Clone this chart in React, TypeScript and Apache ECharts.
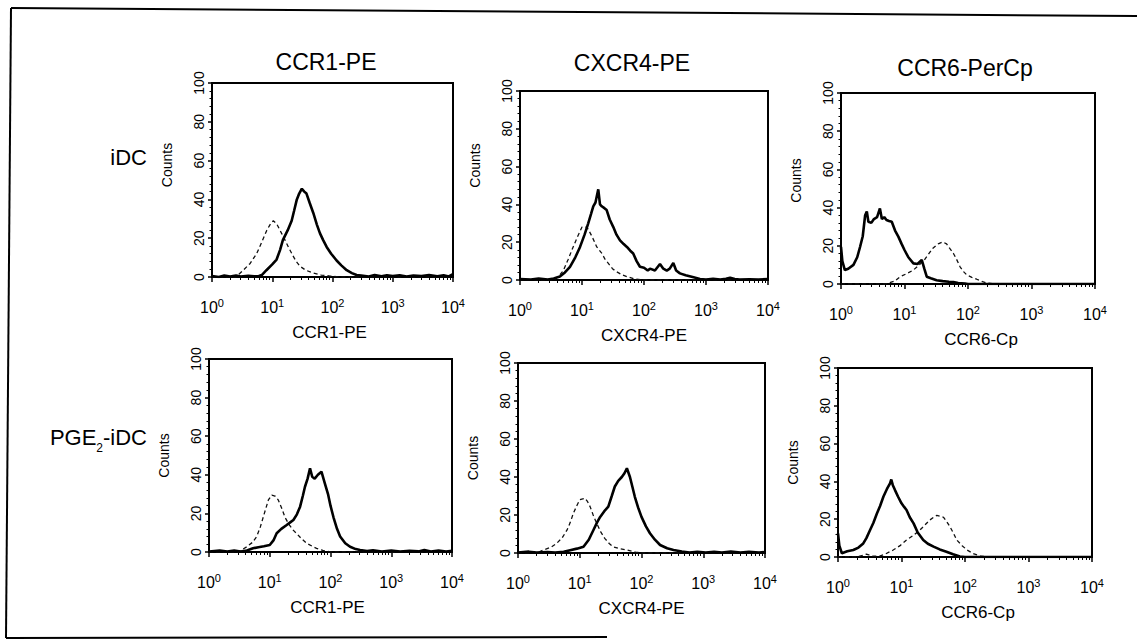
import React, { useEffect, useRef } from 'react';
import * as echarts from 'echarts';

const FONT = '"Liberation Sans", Arial, Helvetica, sans-serif';

const columnTitles = ['CCR1-PE', 'CXCR4-PE', 'CCR6-PerCp'];
const xAxisNames = ['CCR1-PE', 'CXCR4-PE', 'CCR6-Cp'];
const rowLabels = ['iDC', 'PGE{sub|2}-iDC'];
const yAxisName = 'Counts';
const yMax = 100;
const yStep = 20;
const xMin = 1;
const xMax = 10000;

// [fluorescence intensity, counts]
const iDC_CCR1_solid = [[1,0.5],[1.3,0],[1.6,0.8],[2,0.3],[2.5,0.8],[3,0.2],[4,0.6],[5,0.3],[6,0.5],[6.7,1],[8,3.5],[10,6.5],[11.8,9],[13.5,14],[15,19],[18,24],[21,29],[23,34],[25.6,40],[28,43],[31,45.5],[34,44],[37,43],[42,38],[48,33],[55,27],[62,22.5],[70,19],[80,15.5],[95,12],[117,8.5],[140,6],[172,3.5],[210,2],[251,1],[300,0.8],[400,0.3],[500,1],[650,0.4],[800,0.9],[1000,0.5],[1300,0.9],[1700,0.3],[2200,0.8],[3000,0.5],[4000,1],[5500,0.4],[7000,0.9],[8500,0.3],[10000,1.5]];
const iDC_CCR1_dashed = [[1,0],[2.5,0],[3.3,3.5],[4.3,7],[5.5,12],[6.7,18],[8.1,24],[9.2,27],[10.4,29],[11.8,27.5],[13,25],[14.3,22.5],[16.3,19],[18.5,15.5],[22,11],[25,8],[29,5.5],[36,3.5],[48,2],[65,1],[91,0.5],[130,0],[10000,0]];

const iDC_CXCR4_solid = [[1,0.5],[1.5,0.2],[2,0.8],[2.8,0.3],[3.5,0.8],[4.4,1.8],[5.3,4],[6.4,7],[7.8,12],[9.3,17.5],[11,24],[12.6,30],[14,35],[15.2,39],[16.5,41],[18.3,48],[19.5,40],[20.8,39],[23,38],[25,37],[28,32],[32,28],[36,24],[41,21],[47,19],[53,17.5],[60,15.5],[67,14],[76,10],[86,7],[100,6.5],[115,5],[125,6],[150,5],[181,8.5],[205,6],[233,5],[260,6],[297,9],[330,5],[380,3.5],[470,2.5],[630,1.4],[800,0.5],[1000,0.3],[1300,0.6],[1700,0.2],[2100,0.6],[2450,1.2],[2900,0.5],[3500,0.2],[5000,0.4],[7000,0.2],[10000,0.5]];
const iDC_CXCR4_dashed = [[1,0],[3.5,0],[4.2,2],[5,5],[6,11],[7.2,17.5],[8.5,23],[10,28],[12,28],[13,26],[14.5,23],[16,20],[17.3,17.5],[21,14],[23.5,11],[26.6,8.8],[31,6],[36,4.4],[44,2.8],[53,1.8],[70,0.6],[100,0],[10000,0]];

const iDC_CCR6_solid = [[1,19.5],[1.05,12],[1.15,7.3],[1.3,8],[1.57,10],[1.8,14],[2.0,19.5],[2.2,25],[2.4,36],[2.55,38],[2.7,32.6],[3.0,32],[3.3,34],[3.7,35],[4.1,39.6],[4.4,34],[4.8,35],[5.2,33.5],[5.7,33],[6.3,32.6],[7.1,28],[8,24.8],[9,21],[10,17.8],[11.5,14],[13.8,10.8],[16,10.5],[18.7,12.6],[20.5,8],[22.4,3.8],[26,3],[32,2],[40,1.5],[50,1.2],[59,1],[70,0.5],[90,0.2],[100,0],[10000,0]];
const iDC_CCR6_dashed = [[1,0],[5,0],[7,1.5],[8.5,3.8],[11,5.5],[13.8,7.3],[17,10],[20,12],[22.4,14.3],[25,16.5],[28,18.7],[31,20],[34,21],[40,22],[46,21],[52,18.5],[59,16],[67,12.5],[75,9],[85,6.5],[96,4.7],[115,3.5],[137,2.5],[170,1.2],[200,0.5],[260,0],[10000,0]];

const pge_CCR1_solid = [[1,0.3],[1.5,0.8],[2,0.2],[2.6,0.7],[3.3,0.3],[4.2,0.8],[5.3,1.9],[6.5,2.5],[8,3],[10,3.6],[11.5,6],[13,9.7],[15.5,12],[19,14],[22,15.5],[24.5,16.6],[28,19.5],[31.6,23.5],[35,29],[38,33.8],[42,38],[46,43.4],[50,39],[55,38],[62,40],[71,41.6],[80,36],[91,30],[100,24],[112,18],[128,12],[144,8],[175,4.5],[210,2.7],[260,1.5],[307,1],[400,0.5],[500,0.9],[700,0.3],[1000,0.8],[1400,0.2],[2000,0.6],[2800,0.3],[3500,1],[4500,0.3],[6000,0.8],[8000,0.3],[10000,0.6]];
const pge_CCR1_dashed = [[1,0],[3,0],[4.2,2.7],[5.2,5],[6.1,8],[7,13],[7.8,18],[8.7,23],[9.5,27],[10.8,29.5],[12.2,29],[13.8,27],[15.8,22.5],[17.8,18],[21,14],[24,11.5],[27.5,9.7],[33,7],[40.6,4.5],[50,3],[59,1.9],[75,0.8],[100,0],[10000,0]];

const pge_CXCR4_solid = [[1,0.3],[1.5,0.7],[2,0.2],[3,0.5],[4,0.2],[5.5,0.6],[7,1.5],[9,2.3],[11.5,3.3],[14,7],[16.6,12],[19,16],[21.4,19],[25,22],[29,24.4],[33,30],[37,35],[42,38],[48,40],[53,42],[58,44.6],[65,40],[71,35],[78,29.6],[88,24],[100,19],[118,14],[137,10.4],[165,7],[200,4.2],[260,2.5],[330,1.6],[450,0.8],[600,0.3],[800,0.6],[1100,0.2],[1500,0.6],[2000,0.3],[2800,0.7],[4000,0.3],[5500,0.6],[8000,0.3],[10000,0.5]];
const pge_CXCR4_dashed = [[1,0],[2,0],[2.6,1.6],[3.4,3],[4.2,5],[5.2,8],[6.2,12],[7,16],[7.9,21],[9,25],[10,28],[12.2,28.8],[13.4,27],[14.7,24.4],[16.5,20],[18.8,15.6],[22,11],[25.4,7.7],[30,5],[34.6,3.3],[45,2.2],[58,1.6],[80,0.5],[110,0],[10000,0]];

const pge_CCR6_solid = [[1,12.5],[1.05,6],[1.15,2],[1.4,3],[1.74,3.7],[2.1,5],[2.5,7.2],[2.8,10],[3.2,14.3],[3.6,18],[4.1,23],[4.6,27],[5.2,32],[5.9,36],[6.6,39],[6.9,41],[7.3,38],[7.9,35.4],[8.8,32],[10,28.4],[11,26.5],[12,24.9],[13.5,21],[15.5,17.8],[18,13],[22,9],[26,7],[32,5.5],[40,4],[51,2.8],[65,1.5],[83,0.3],[100,0],[10000,0]];
const pge_CCR6_dashed = [[1,0],[2,0],[2.8,1.5],[3.5,0.5],[4.5,0.5],[5.5,1.5],[7.4,3.7],[9.5,6],[12,9],[15.5,11.5],[19.6,14.3],[23.5,17],[28,19.6],[32,21],[36,22],[41,21.5],[46,21],[52,18.5],[58,16],[66,12.5],[74,9],[90,6],[108,3.7],[135,1.8],[172,0.5],[230,0],[10000,0]];

const panelSolid = [iDC_CCR1_solid, iDC_CXCR4_solid, iDC_CCR6_solid, pge_CCR1_solid, pge_CXCR4_solid, pge_CCR6_solid];
const panelDashed = [iDC_CCR1_dashed, iDC_CXCR4_dashed, iDC_CCR6_dashed, pge_CCR1_dashed, pge_CXCR4_dashed, pge_CCR6_dashed];

// layout (plot boxes)
const boxes = [
  { left: 212, top: 83, width: 241, height: 194 },
  { left: 520, top: 91, width: 248, height: 189 },
  { left: 841, top: 93, width: 254, height: 191 },
  { left: 209, top: 359, width: 243, height: 193 },
  { left: 518, top: 363, width: 247, height: 190 },
  { left: 838, top: 368, width: 254, height: 189 },
];
const countsShift = [15, 20, 8, 0, 0, 0];
const xNameShift = [-3, 0, 13, -3, 0, 13];
const titlePos = [[326, 62], [632, 63], [965, 68]];
const rowLabelPos = [[147, 157], [147, 437]];

export default function App() {
  const ref = useRef<HTMLDivElement>(null);
  useEffect(() => {
    document.body.style.margin = '0';
    if (!ref.current) return;
    const chart = echarts.init(ref.current, null, { renderer: 'svg' });
    const grid = boxes.map((b) => ({
      left: b.left, top: b.top, width: b.width, height: b.height,
      show: true, borderColor: '#000', borderWidth: 2, backgroundColor: 'transparent',
      containLabel: false,
    }));
    const xAxis = boxes.map((_, i) => {
      const s = xNameShift[i];
      return {
        type: 'log', logBase: 10, gridIndex: i, min: xMin, max: xMax, splitNumber: 4,
        name: xAxisNames[i % 3], nameLocation: 'middle', nameGap: 47,
        nameTextStyle: { fontSize: 17, color: '#000', fontFamily: FONT, padding: s >= 0 ? [0, 0, 0, 2 * s] : [0, -2 * s, 0, 0] },
        axisLine: { show: true, lineStyle: { color: '#000', width: 2 } },
        axisTick: { show: true, length: 5, lineStyle: { color: '#000', width: 1.5 } },
        minorTick: { show: true, splitNumber: 9, length: 3, lineStyle: { color: '#000', width: 1 } },
        splitLine: { show: false },
        axisLabel: {
          margin: 20, color: '#000',
          formatter: (v: number) => '{b|10}{s|' + Math.round(Math.log10(v)) + '}',
          rich: {
            b: { fontSize: 16, lineHeight: 21, fontFamily: FONT, color: '#000' },
            s: { fontSize: 11, lineHeight: 11, verticalAlign: 'top', fontFamily: FONT, color: '#000' },
          },
        },
      };
    });
    const yAxis = boxes.map((_, i) => {
      const s = countsShift[i];
      return {
        type: 'value', gridIndex: i, min: 0, max: yMax, interval: yStep,
        name: yAxisName, nameLocation: 'middle', nameGap: 38,
        nameTextStyle: { fontSize: 14, color: '#000', fontFamily: FONT, padding: [0, 0, 0, 2 * s] },
        axisLine: { show: true, lineStyle: { color: '#000', width: 2 } },
        axisTick: { show: true, length: 4, lineStyle: { color: '#000', width: 1.5 } },
        minorTick: { show: true, splitNumber: 5, length: 2.5, lineStyle: { color: '#000', width: 1 } },
        splitLine: { show: false },
        axisLabel: { rotate: 90, margin: 6, fontSize: 14, color: '#000', fontFamily: FONT },
      };
    });
    const series: any[] = [];
    boxes.forEach((_, i) => {
      series.push({
        type: 'line', xAxisIndex: i, yAxisIndex: i, data: panelDashed[i], showSymbol: false, symbol: 'none',
        lineStyle: { color: '#111', width: 1.3, type: [4, 3] }, z: 3,
      });
      series.push({
        type: 'line', xAxisIndex: i, yAxisIndex: i, data: panelSolid[i], showSymbol: false, symbol: 'none',
        lineStyle: { color: '#000', width: 2.6 }, z: 4,
      });
    });
    const graphic: any[] = [];
    columnTitles.forEach((t, i) => {
      graphic.push({
        type: 'text', x: titlePos[i][0], y: titlePos[i][1],
        style: { text: t, align: 'center', verticalAlign: 'middle', fontSize: 23, fontFamily: FONT, fill: '#000' },
      });
    });
    rowLabels.forEach((t, i) => {
      graphic.push({
        type: 'text', x: rowLabelPos[i][0], y: rowLabelPos[i][1],
        style: {
          text: t, align: 'right', verticalAlign: 'middle', fontSize: 22, fontFamily: FONT, fill: '#000',
          lineHeight: 34,
          rich: { sub: { fontSize: 12, lineHeight: 12, verticalAlign: 'bottom', fontFamily: FONT, fill: '#000' } },
        },
      });
    });
    // scanned figure frame
    graphic.push({ type: 'line', shape: { x1: 11, y1: 8, x2: 1137, y2: 16 }, style: { stroke: '#000', lineWidth: 2 } });
    graphic.push({ type: 'line', shape: { x1: 11, y1: 8, x2: 6, y2: 638 }, style: { stroke: '#000', lineWidth: 2 } });
    graphic.push({ type: 'line', shape: { x1: 6, y1: 638, x2: 607, y2: 637 }, style: { stroke: '#000', lineWidth: 2 } });

    chart.setOption({
      animation: false,
      backgroundColor: '#fff',
      grid, xAxis, yAxis, series, graphic,
    });
    return () => chart.dispose();
  }, []);
  return <div ref={ref} style={{ width: 1137, height: 643 }} />;
}
